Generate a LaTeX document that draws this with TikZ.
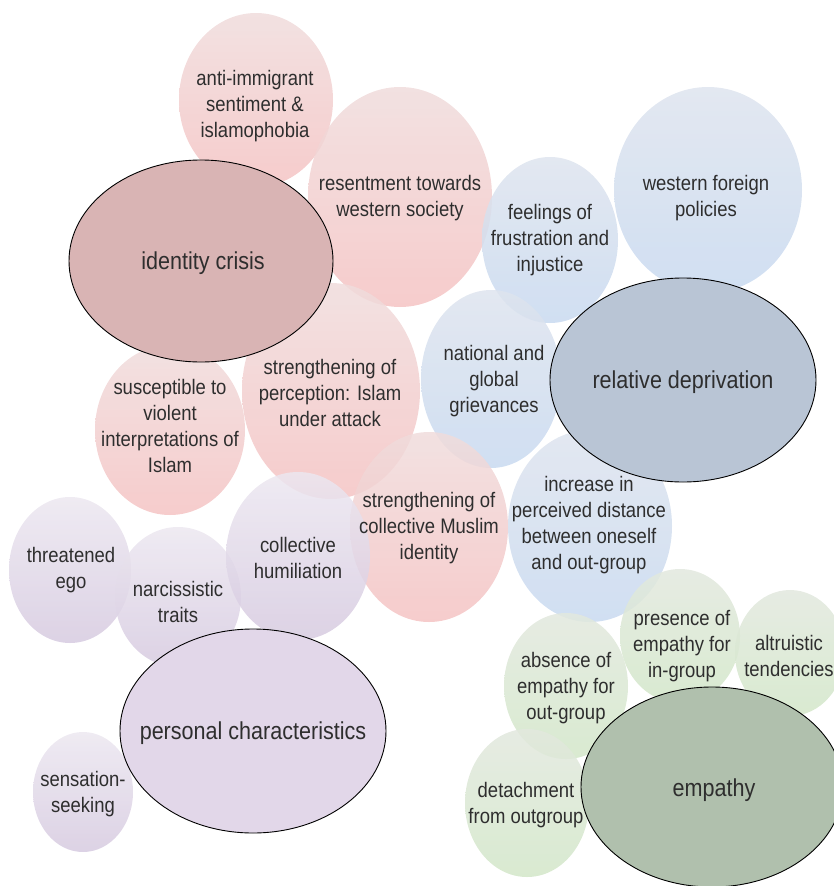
\documentclass[tikz,border=0pt]{standalone}
\usepackage{fontspec}
\setmainfont[FakeStretch=0.88]{Liberation Sans}
\usetikzlibrary{shapes.geometric}
\definecolor{pinkT}{HTML}{F0DCDC}
\definecolor{pinkB}{HTML}{F4C3C3}
\definecolor{blueT}{HTML}{DEE4EE}
\definecolor{blueB}{HTML}{C8D9F0}
\definecolor{purT}{HTML}{ECE7F0}
\definecolor{purB}{HTML}{D6CAE0}
\definecolor{grnT}{HTML}{E2E8DE}
\definecolor{grnB}{HTML}{D2E6C8}
\definecolor{idC}{HTML}{D9B4B4}
\definecolor{rdC}{HTML}{B9C5D5}
\definecolor{pcC}{HTML}{E2D7E9}
\definecolor{emC}{HTML}{B0C0AD}
\definecolor{txt}{HTML}{2E2E2E}
\tikzset{
  bub/.style={ellipse, inner sep=0pt, draw=none, fill opacity=0.85},
  pinkb/.style={bub, top color=pinkT, bottom color=pinkB},
  blueb/.style={bub, top color=blueT, bottom color=blueB},
  purb/.style={bub, top color=purT, bottom color=purB},
  grnb/.style={bub, top color=grnT, bottom color=grnB},
  mainb/.style={ellipse, inner sep=0pt, draw=black, line width=0.9pt},
  lab/.style={align=center, text=txt, font=\fontsize{21}{26}\selectfont, inner sep=0pt},
  biglab/.style={align=center, text=txt, font=\fontsize{24.5}{29}\selectfont, inner sep=0pt},
}
\newcommand{\bubble}[6]{\node[#1, minimum width=#4pt, minimum height=#5pt] (#6) at (#2,#3) {};}
\begin{document}
\begin{tikzpicture}[x=1pt, y=-1pt]
\useasboundingbox (0,0) rectangle (834,886);
% pink satellites
\bubble{pinkb}{256}{100}{154}{174}{aim}
\bubble{pinkb}{400}{197}{184}{220}{res}
\bubble{pinkb}{170}{430}{150}{170}{sus}
\bubble{pinkb}{331}{391}{178}{216}{per}
% blue satellites
\bubble{blueb}{708}{190}{188}{206}{wfp}
\bubble{blueb}{550}{240}{136}{166}{fru}
\bubble{blueb}{491}{379}{140}{178}{ngg}
\bubble{blueb}{590}{526}{164}{192}{inc}
\bubble{pinkb}{429}{527}{158}{190}{col}
% purple satellites
\bubble{purb}{70}{570}{122}{146}{ego}
\bubble{purb}{178}{597}{126}{140}{nar}
\bubble{purb}{298}{556}{144}{168}{hum}
\bubble{purb}{83}{792}{100}{120}{sen}
% green satellites
\bubble{grnb}{680}{636}{120}{134}{pre}
\bubble{grnb}{790}{653}{110}{126}{alt}
\bubble{grnb}{566}{686}{124}{146}{abs}
\bubble{grnb}{527}{803}{124}{148}{det}
% main ellipses
\node[mainb, fill=idC, minimum width=264pt, minimum height=202pt] (idc) at (201,261) {};
\node[mainb, fill=rdC, minimum width=266pt, minimum height=204pt] (rdp) at (683,380) {};
\node[mainb, fill=pcC, minimum width=266pt, minimum height=204pt] (pch) at (253,731) {};
\node[mainb, fill=emC, minimum width=262pt, minimum height=200pt] (emp) at (712,787) {};
% labels
\node[lab] (aimT) at (255,106) {anti-immigrant\\sentiment \&\\islamophobia};
\node[lab] (resT) at (400,198) {resentment towards\\western society};
\node[biglab] (idcT) at (203,263) {identity crisis};
\node[lab] (perT) at (330,393) {strengthening of\\perception: Islam\\under attack};
\node[lab] (susT) at (170,426) {susceptible to\\violent\\interpretations of\\Islam};
\node[lab] (fruT) at (550,240) {feelings of\\frustration and\\injustice};
\node[lab] (wfpT) at (706,198) {western foreign\\policies};
\node[lab] (nggT) at (494,381) {national and\\global\\grievances};
\node[biglab] (rdpT) at (683,382) {relative deprivation};
\node[lab] (colT) at (429,528) {strengthening of\\collective Muslim\\identity};
\node[lab] (incT) at (589,525) {increase in\\perceived distance\\between oneself\\and out-group};
\node[lab] (egoT) at (71,570) {threatened\\ego};
\node[lab] (narT) at (178,602) {narcissistic\\traits};
\node[lab] (humT) at (298,558) {collective\\humiliation};
\node[biglab] (pchT) at (253,733) {personal characteristics};
\node[lab] (senT) at (83,794) {sensation-\\seeking};
\node[lab] (preT) at (682,646) {presence of\\empathy for\\in-group};
\node[lab] (altT) at (789,656) {altruistic\\tendencies};
\node[lab] (absT) at (566,688) {absence of\\empathy for\\out-group};
\node[lab] (detT) at (526,805) {detachment\\from outgroup};
\node[biglab] (empT) at (714,790) {empathy};
\end{tikzpicture}
\end{document}
